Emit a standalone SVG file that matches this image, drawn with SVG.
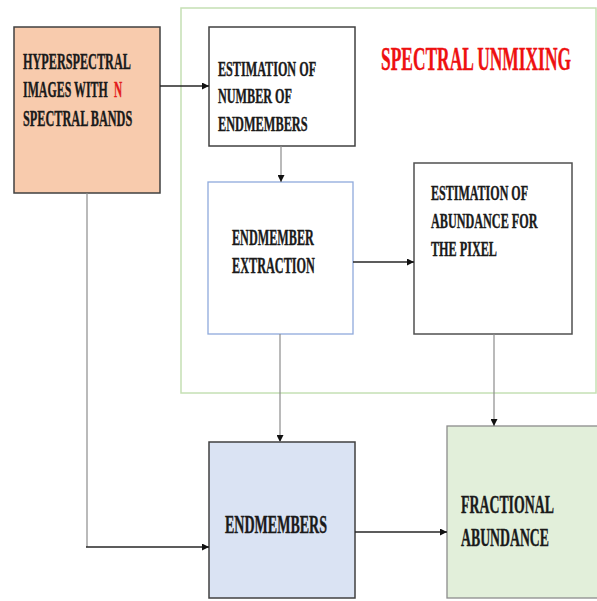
<svg xmlns="http://www.w3.org/2000/svg" width="597" height="601" viewBox="0 0 597 601">
<defs>
<style>
.t{font-family:"Liberation Serif","Times New Roman",serif;font-weight:bold;fill:#1a1a1a;stroke:#1a1a1a;stroke-width:0.4}
.r{fill:#ee1111;stroke:#ee1111}
.dk{stroke:#262626;stroke-width:1.6;fill:none}
.gy{stroke:#8c8c8c;stroke-width:1.2;fill:none}
</style>
<marker id="ah" viewBox="0 0 10 10" refX="10" refY="5" markerWidth="7" markerHeight="7" markerUnits="userSpaceOnUse" orient="auto">
<path d="M0,0 L10,5 L0,10 z" fill="#111"/>
</marker>
</defs>
<rect width="597" height="601" fill="#fff"/>
<g id="frame">
<rect x="181" y="8" width="415" height="385" fill="none" stroke="#c5e0b4" stroke-width="1.5"/>
<text class="t r" font-size="34" transform="translate(381,70) scale(0.512,1)">SPECTRAL UNMIXING</text>
</g>
<g id="hyperspectral">
<rect x="14" y="27" width="146" height="166" fill="#f8cbad" stroke="#404040" stroke-width="1.5"/>
<text class="t" font-size="24" transform="translate(23,69) scale(0.509,1)">HYPERSPECTRAL</text>
<text class="t" font-size="24" transform="translate(23,97) scale(0.496,1)">IMAGES WITH</text>
<text class="t r" font-size="24" transform="translate(114,97) scale(0.47,1)" style="fill:#e31b1b;stroke:#e31b1b">N</text>
<text class="t" font-size="24" transform="translate(23,126) scale(0.511,1)">SPECTRAL BANDS</text>
</g>
<g id="est-number">
<rect x="209" y="27" width="146" height="119" fill="#fff" stroke="#404040" stroke-width="1.5"/>
<text class="t" font-size="22" transform="translate(218,76) scale(0.553,1)">ESTIMATION OF</text>
<text class="t" font-size="22" transform="translate(218,103) scale(0.553,1)">NUMBER OF</text>
<text class="t" font-size="22" transform="translate(218,131) scale(0.56,1)">ENDMEMBERS</text>
</g>
<g id="extraction">
<rect x="208" y="182" width="145" height="152" fill="#fff" stroke="#8faadc" stroke-width="1.3"/>
<text class="t" font-size="23" transform="translate(232,245) scale(0.53,1)">ENDMEMBER</text>
<text class="t" font-size="23" transform="translate(232,273) scale(0.532,1)">EXTRACTION</text>
</g>
<g id="est-abundance">
<rect x="414" y="163" width="158" height="171" fill="#fff" stroke="#505050" stroke-width="1.5"/>
<text class="t" font-size="21" transform="translate(431,200) scale(0.573,1)">ESTIMATION OF</text>
<text class="t" font-size="21" transform="translate(431,228) scale(0.58,1)">ABUNDANCE FOR</text>
<text class="t" font-size="21" transform="translate(431,256) scale(0.58,1)">THE PIXEL</text>
</g>
<g id="endmembers">
<rect x="209" y="442" width="146" height="156" fill="#dae3f3" stroke="#404040" stroke-width="1.5"/>
<text class="t" font-size="25" transform="translate(225,533) scale(0.561,1)">ENDMEMBERS</text>
</g>
<g id="fractional">
<rect x="447" y="426" width="152" height="172" fill="#e2efda" stroke="#8c8c8c" stroke-width="1.3"/>
<text class="t" font-size="26" transform="translate(461,513) scale(0.532,1)">FRACTIONAL</text>
<text class="t" font-size="26" transform="translate(461,546) scale(0.53,1)">ABUNDANCE</text>
</g>
<g id="connectors">
<path class="dk" d="M160,86 H209" marker-end="url(#ah)"/>
<path class="gy" d="M281,146 V182" marker-end="url(#ah)"/>
<path class="dk" d="M353,262 H414" marker-end="url(#ah)"/>
<path class="gy" d="M280,334 V442" marker-end="url(#ah)"/>
<path class="gy" d="M494,334 V426" marker-end="url(#ah)"/>
<path class="gy" d="M87,193 V547"/>
<path class="dk" d="M86,547 H209" marker-end="url(#ah)"/>
<path class="dk" d="M355,532 H447" marker-end="url(#ah)"/>
</g>
</svg>
